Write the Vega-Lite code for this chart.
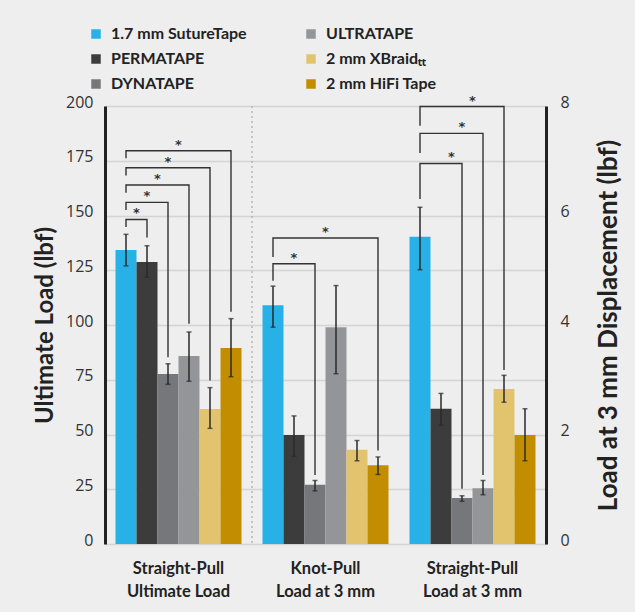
{
  "$schema": "https://vega.github.io/schema/vega-lite/v6.json",
  "width": 441,
  "height": 438,
  "autosize": "none",
  "padding": {"left": 105, "top": 106, "right": 89, "bottom": 68},
  "background": "#eeeeee",
  "config": {
    "view": {"stroke": null},
    "axis": {"labelFont": "Open Sans", "titleFont": "Lato", "ticks": false}
  },
  "datasets": {
    "bars": [
      {"group": "Straight-Pull|Ultimate Load", "product": "1.7 mm SutureTape", "value": 134.2, "lo": 127.0, "hi": 141.4},
      {"group": "Straight-Pull|Ultimate Load", "product": "PERMATAPE", "value": 128.8, "lo": 121.8, "hi": 136.2},
      {"group": "Straight-Pull|Ultimate Load", "product": "DYNATAPE", "value": 77.6, "lo": 72.9, "hi": 82.3},
      {"group": "Straight-Pull|Ultimate Load", "product": "ULTRATAPE", "value": 85.8, "lo": 74.3, "hi": 96.8},
      {"group": "Straight-Pull|Ultimate Load", "product": "2 mm XBraidₜₜ", "value": 61.6, "lo": 52.8, "hi": 71.4},
      {"group": "Straight-Pull|Ultimate Load", "product": "2 mm HiFi Tape", "value": 89.5, "lo": 76.4, "hi": 102.9},
      {"group": "Knot-Pull|Load at 3 mm", "product": "1.7 mm SutureTape", "value": 4.36, "lo": 3.96, "hi": 4.71},
      {"group": "Knot-Pull|Load at 3 mm", "product": "PERMATAPE", "value": 1.99, "lo": 1.60, "hi": 2.34},
      {"group": "Knot-Pull|Load at 3 mm", "product": "DYNATAPE", "value": 1.08, "lo": 0.97, "hi": 1.16},
      {"group": "Knot-Pull|Load at 3 mm", "product": "ULTRATAPE", "value": 3.96, "lo": 3.11, "hi": 4.72},
      {"group": "Knot-Pull|Load at 3 mm", "product": "2 mm XBraidₜₜ", "value": 1.72, "lo": 1.52, "hi": 1.89},
      {"group": "Knot-Pull|Load at 3 mm", "product": "2 mm HiFi Tape", "value": 1.44, "lo": 1.27, "hi": 1.59},
      {"group": "Straight-Pull|Load at 3 mm", "product": "1.7 mm SutureTape", "value": 5.61, "lo": 5.01, "hi": 6.15},
      {"group": "Straight-Pull|Load at 3 mm", "product": "PERMATAPE", "value": 2.47, "lo": 2.17, "hi": 2.75},
      {"group": "Straight-Pull|Load at 3 mm", "product": "DYNATAPE", "value": 0.84, "lo": 0.78, "hi": 0.88},
      {"group": "Straight-Pull|Load at 3 mm", "product": "ULTRATAPE", "value": 1.02, "lo": 0.90, "hi": 1.16},
      {"group": "Straight-Pull|Load at 3 mm", "product": "2 mm XBraidₜₜ", "value": 2.83, "lo": 2.59, "hi": 3.08},
      {"group": "Straight-Pull|Load at 3 mm", "product": "2 mm HiFi Tape", "value": 1.99, "lo": 1.52, "hi": 2.47}
    ],
    "brackets": [
      {"group": "Straight-Pull|Ultimate Load", "bracket": "b1", "step": 1, "product": "1.7 mm SutureTape", "y": 144.7},
      {"group": "Straight-Pull|Ultimate Load", "bracket": "b1", "step": 2, "product": "1.7 mm SutureTape", "y": 148.2},
      {"group": "Straight-Pull|Ultimate Load", "bracket": "b1", "step": 3, "product": "PERMATAPE", "y": 148.2},
      {"group": "Straight-Pull|Ultimate Load", "bracket": "b1", "step": 4, "product": "PERMATAPE", "y": 140.0},
      {"group": "Straight-Pull|Ultimate Load", "bracket": "b2", "step": 1, "product": "1.7 mm SutureTape", "y": 152.5},
      {"group": "Straight-Pull|Ultimate Load", "bracket": "b2", "step": 2, "product": "1.7 mm SutureTape", "y": 156.0},
      {"group": "Straight-Pull|Ultimate Load", "bracket": "b2", "step": 3, "product": "DYNATAPE", "y": 156.0},
      {"group": "Straight-Pull|Ultimate Load", "bracket": "b2", "step": 4, "product": "DYNATAPE", "y": 85.3},
      {"group": "Straight-Pull|Ultimate Load", "bracket": "b3", "step": 1, "product": "1.7 mm SutureTape", "y": 160.4},
      {"group": "Straight-Pull|Ultimate Load", "bracket": "b3", "step": 2, "product": "1.7 mm SutureTape", "y": 163.9},
      {"group": "Straight-Pull|Ultimate Load", "bracket": "b3", "step": 3, "product": "ULTRATAPE", "y": 163.9},
      {"group": "Straight-Pull|Ultimate Load", "bracket": "b3", "step": 4, "product": "ULTRATAPE", "y": 100.6},
      {"group": "Straight-Pull|Ultimate Load", "bracket": "b4", "step": 1, "product": "1.7 mm SutureTape", "y": 168.3},
      {"group": "Straight-Pull|Ultimate Load", "bracket": "b4", "step": 2, "product": "1.7 mm SutureTape", "y": 171.8},
      {"group": "Straight-Pull|Ultimate Load", "bracket": "b4", "step": 3, "product": "2 mm XBraidₜₜ", "y": 171.8},
      {"group": "Straight-Pull|Ultimate Load", "bracket": "b4", "step": 4, "product": "2 mm XBraidₜₜ", "y": 74.7},
      {"group": "Straight-Pull|Ultimate Load", "bracket": "b5", "step": 1, "product": "1.7 mm SutureTape", "y": 176.1},
      {"group": "Straight-Pull|Ultimate Load", "bracket": "b5", "step": 2, "product": "1.7 mm SutureTape", "y": 179.6},
      {"group": "Straight-Pull|Ultimate Load", "bracket": "b5", "step": 3, "product": "2 mm HiFi Tape", "y": 179.6},
      {"group": "Straight-Pull|Ultimate Load", "bracket": "b5", "step": 4, "product": "2 mm HiFi Tape", "y": 106.1},
      {"group": "Knot-Pull|Load at 3 mm", "bracket": "b6", "step": 1, "product": "1.7 mm SutureTape", "y": 4.81},
      {"group": "Knot-Pull|Load at 3 mm", "bracket": "b6", "step": 2, "product": "1.7 mm SutureTape", "y": 5.12},
      {"group": "Knot-Pull|Load at 3 mm", "bracket": "b6", "step": 3, "product": "DYNATAPE", "y": 5.12},
      {"group": "Knot-Pull|Load at 3 mm", "bracket": "b6", "step": 4, "product": "DYNATAPE", "y": 1.26},
      {"group": "Knot-Pull|Load at 3 mm", "bracket": "b7", "step": 1, "product": "1.7 mm SutureTape", "y": 5.24},
      {"group": "Knot-Pull|Load at 3 mm", "bracket": "b7", "step": 2, "product": "1.7 mm SutureTape", "y": 5.59},
      {"group": "Knot-Pull|Load at 3 mm", "bracket": "b7", "step": 3, "product": "2 mm HiFi Tape", "y": 5.59},
      {"group": "Knot-Pull|Load at 3 mm", "bracket": "b7", "step": 4, "product": "2 mm HiFi Tape", "y": 1.71},
      {"group": "Straight-Pull|Load at 3 mm", "bracket": "b8", "step": 1, "product": "1.7 mm SutureTape", "y": 6.30},
      {"group": "Straight-Pull|Load at 3 mm", "bracket": "b8", "step": 2, "product": "1.7 mm SutureTape", "y": 6.95},
      {"group": "Straight-Pull|Load at 3 mm", "bracket": "b8", "step": 3, "product": "DYNATAPE", "y": 6.95},
      {"group": "Straight-Pull|Load at 3 mm", "bracket": "b8", "step": 4, "product": "DYNATAPE", "y": 1.01},
      {"group": "Straight-Pull|Load at 3 mm", "bracket": "b9", "step": 1, "product": "1.7 mm SutureTape", "y": 7.14},
      {"group": "Straight-Pull|Load at 3 mm", "bracket": "b9", "step": 2, "product": "1.7 mm SutureTape", "y": 7.50},
      {"group": "Straight-Pull|Load at 3 mm", "bracket": "b9", "step": 3, "product": "ULTRATAPE", "y": 7.50},
      {"group": "Straight-Pull|Load at 3 mm", "bracket": "b9", "step": 4, "product": "ULTRATAPE", "y": 1.26},
      {"group": "Straight-Pull|Load at 3 mm", "bracket": "b10", "step": 1, "product": "1.7 mm SutureTape", "y": 7.64},
      {"group": "Straight-Pull|Load at 3 mm", "bracket": "b10", "step": 2, "product": "1.7 mm SutureTape", "y": 7.99},
      {"group": "Straight-Pull|Load at 3 mm", "bracket": "b10", "step": 3, "product": "2 mm XBraidₜₜ", "y": 7.99},
      {"group": "Straight-Pull|Load at 3 mm", "bracket": "b10", "step": 4, "product": "2 mm XBraidₜₜ", "y": 3.18}
    ],
    "stars": [
      {"group": "Straight-Pull|Ultimate Load", "product": "1.7 mm SutureTape", "y": 148.2, "at": "edge"},
      {"group": "Straight-Pull|Ultimate Load", "product": "PERMATAPE", "y": 156.0, "at": "center"},
      {"group": "Straight-Pull|Ultimate Load", "product": "PERMATAPE", "y": 163.9, "at": "edge"},
      {"group": "Straight-Pull|Ultimate Load", "product": "DYNATAPE", "y": 171.8, "at": "center"},
      {"group": "Straight-Pull|Ultimate Load", "product": "DYNATAPE", "y": 179.6, "at": "edge"},
      {"group": "Knot-Pull|Load at 3 mm", "product": "PERMATAPE", "y": 5.12, "at": "center"},
      {"group": "Knot-Pull|Load at 3 mm", "product": "DYNATAPE", "y": 5.59, "at": "edge"},
      {"group": "Straight-Pull|Load at 3 mm", "product": "PERMATAPE", "y": 6.95, "at": "edge"},
      {"group": "Straight-Pull|Load at 3 mm", "product": "DYNATAPE", "y": 7.50, "at": "center"},
      {"group": "Straight-Pull|Load at 3 mm", "product": "DYNATAPE", "y": 7.99, "at": "edge"}
    ]
  },
  "encoding": {
    "x": {
      "field": "group", "type": "nominal",
      "scale": {"domain": ["Straight-Pull|Ultimate Load", "Knot-Pull|Load at 3 mm", "Straight-Pull|Load at 3 mm"], "paddingInner": 0, "paddingOuter": 0},
      "axis": {"title": null, "domain": false, "ticks": false, "labelAngle": 0, "labelExpr": "split(datum.label, '|')", "labelFont": "Lato", "labelFontWeight": "bold", "labelFontSize": 16.5, "labelColor": "#222222", "labelPadding": 16, "labelLineHeight": 23, "labelBaseline": "top"}
    }
  },
  "layer": [
    {
      "layer": [
        {
          "data": {"name": "bars"},
          "transform": [{"filter": "datum.group == 'Straight-Pull|Ultimate Load'"}],
          "mark": {"type": "bar"},
          "encoding": {
            "xOffset": {"field": "product", "type": "nominal", "scale": {"domain": ["1.7 mm SutureTape", "PERMATAPE", "DYNATAPE", "ULTRATAPE", "2 mm XBraidₜₜ", "2 mm HiFi Tape"], "paddingInner": 0, "paddingOuter": 0.5}},
            "y": {"field": "value", "type": "quantitative", "title": "Ultimate Load (lbf)", "scale": {"domain": [0, 200], "nice": false},
              "axis": {"orient": "left", "values": [0, 25, 50, 75, 100, 125, 150, 175, 200], "grid": true, "gridColor": "#d4d4d4", "gridWidth": 1.5, "domainColor": "#222222", "domainWidth": 3, "labelFontSize": 16, "labelColor": "#333333", "labelPadding": 12, "labelOffset": -4, "titleFontSize": 24, "titleFontWeight": "bold", "titleColor": "#222222", "titlePadding": 8}},
            "color": {"field": "product", "type": "nominal",
              "scale": {"domain": ["1.7 mm SutureTape", "PERMATAPE", "DYNATAPE", "ULTRATAPE", "2 mm XBraidₜₜ", "2 mm HiFi Tape"], "range": ["#27b1e6", "#3c3c3c", "#76777b", "#949599", "#e3c46e", "#c28e00"]},
              "legend": {"title": null, "orient": "none", "legendX": -17, "legendY": -80, "columns": 2, "columnPadding": 56, "rowPadding": 9, "symbolType": "square", "symbolSize": 90, "symbolStrokeWidth": 0, "labelFont": "Lato", "labelFontSize": 16, "labelFontWeight": "bold", "labelColor": "#222222", "labelOffset": 7}}
          }
        },
        {
          "data": {"name": "bars"},
          "transform": [{"filter": "datum.group == 'Straight-Pull|Ultimate Load'"}],
          "mark": {"type": "rule", "color": "#2a2a2a", "strokeWidth": 1.5},
          "encoding": {
            "xOffset": {"field": "product", "type": "nominal"},
            "y": {"field": "lo", "type": "quantitative", "title": "Ultimate Load (lbf)"},
            "y2": {"field": "hi"}
          }
        },
        {
          "data": {"name": "bars"},
          "transform": [{"filter": "datum.group == 'Straight-Pull|Ultimate Load'"}],
          "mark": {"type": "tick", "color": "#2a2a2a", "size": 5, "thickness": 1.5, "orient": "horizontal"},
          "encoding": {
            "xOffset": {"field": "product", "type": "nominal"},
            "y": {"field": "lo", "type": "quantitative", "title": "Ultimate Load (lbf)"}
          }
        },
        {
          "data": {"name": "bars"},
          "transform": [{"filter": "datum.group == 'Straight-Pull|Ultimate Load'"}],
          "mark": {"type": "tick", "color": "#2a2a2a", "size": 5, "thickness": 1.5, "orient": "horizontal"},
          "encoding": {
            "xOffset": {"field": "product", "type": "nominal"},
            "y": {"field": "hi", "type": "quantitative", "title": "Ultimate Load (lbf)"}
          }
        },
        {
          "data": {"name": "brackets"},
          "transform": [{"filter": "datum.group == 'Straight-Pull|Ultimate Load'"}],
          "mark": {"type": "line", "color": "#333333", "strokeWidth": 1.4, "strokeJoin": "miter", "strokeCap": "butt"},
          "encoding": {
            "xOffset": {"field": "product", "type": "nominal"},
            "y": {"field": "y", "type": "quantitative", "title": "Ultimate Load (lbf)"},
            "detail": {"field": "bracket"},
            "order": {"field": "step", "type": "quantitative"}
          }
        },
        {
          "data": {"name": "stars"},
          "transform": [{"filter": "datum.group == 'Straight-Pull|Ultimate Load' && datum.at == 'center'"}],
          "mark": {"type": "text", "text": "*", "font": "DejaVu Sans", "fontSize": 13, "fontWeight": "bold", "color": "#333333", "baseline": "middle", "dy": -6},
          "encoding": {
            "xOffset": {"field": "product", "type": "nominal"},
            "y": {"field": "y", "type": "quantitative", "title": "Ultimate Load (lbf)"}
          }
        },
        {
          "data": {"name": "stars"},
          "transform": [{"filter": "datum.group == 'Straight-Pull|Ultimate Load' && datum.at == 'edge'"}],
          "mark": {"type": "text", "text": "*", "font": "DejaVu Sans", "fontSize": 13, "fontWeight": "bold", "color": "#333333", "baseline": "middle", "dy": -6, "dx": 10.5},
          "encoding": {
            "xOffset": {"field": "product", "type": "nominal"},
            "y": {"field": "y", "type": "quantitative", "title": "Ultimate Load (lbf)"}
          }
        },
        {
          "data": {"values": [{"group": "Knot-Pull|Load at 3 mm"}]},
          "mark": {"type": "rule", "color": "#aaaaaa", "strokeWidth": 1.2, "strokeDash": [2, 3]},
          "encoding": {
            "x": {"field": "group", "type": "nominal", "bandPosition": 0}
          }
        }
      ]
    },
    {
      "layer": [
        {
          "data": {"name": "bars"},
          "transform": [{"filter": "datum.group != 'Straight-Pull|Ultimate Load'"}],
          "mark": {"type": "bar"},
          "encoding": {
            "xOffset": {"field": "product", "type": "nominal"},
            "y": {"field": "value", "type": "quantitative", "title": "Load at 3 mm Displacement (lbf)", "scale": {"domain": [0, 8], "nice": false},
              "axis": {"orient": "right", "values": [0, 2, 4, 6, 8], "grid": false, "domainColor": "#222222", "domainWidth": 3, "labelFontSize": 16, "labelColor": "#333333", "labelPadding": 14, "labelOffset": -4, "titleFontSize": 26, "titleFontWeight": "bold", "titleColor": "#222222", "titleAngle": 270, "titlePadding": 52}},
            "color": {"field": "product", "type": "nominal"}
          }
        },
        {
          "data": {"name": "bars"},
          "transform": [{"filter": "datum.group != 'Straight-Pull|Ultimate Load'"}],
          "mark": {"type": "rule", "color": "#2a2a2a", "strokeWidth": 1.5},
          "encoding": {
            "xOffset": {"field": "product", "type": "nominal"},
            "y": {"field": "lo", "type": "quantitative", "title": "Load at 3 mm Displacement (lbf)"},
            "y2": {"field": "hi"}
          }
        },
        {
          "data": {"name": "bars"},
          "transform": [{"filter": "datum.group != 'Straight-Pull|Ultimate Load'"}],
          "mark": {"type": "tick", "color": "#2a2a2a", "size": 5, "thickness": 1.5, "orient": "horizontal"},
          "encoding": {
            "xOffset": {"field": "product", "type": "nominal"},
            "y": {"field": "lo", "type": "quantitative", "title": "Load at 3 mm Displacement (lbf)"}
          }
        },
        {
          "data": {"name": "bars"},
          "transform": [{"filter": "datum.group != 'Straight-Pull|Ultimate Load'"}],
          "mark": {"type": "tick", "color": "#2a2a2a", "size": 5, "thickness": 1.5, "orient": "horizontal"},
          "encoding": {
            "xOffset": {"field": "product", "type": "nominal"},
            "y": {"field": "hi", "type": "quantitative", "title": "Load at 3 mm Displacement (lbf)"}
          }
        },
        {
          "data": {"name": "brackets"},
          "transform": [{"filter": "datum.group != 'Straight-Pull|Ultimate Load'"}],
          "mark": {"type": "line", "color": "#333333", "strokeWidth": 1.4, "strokeJoin": "miter", "strokeCap": "butt"},
          "encoding": {
            "xOffset": {"field": "product", "type": "nominal"},
            "y": {"field": "y", "type": "quantitative", "title": "Load at 3 mm Displacement (lbf)"},
            "detail": {"field": "bracket"},
            "order": {"field": "step", "type": "quantitative"}
          }
        },
        {
          "data": {"name": "stars"},
          "transform": [{"filter": "datum.group != 'Straight-Pull|Ultimate Load' && datum.at == 'center'"}],
          "mark": {"type": "text", "text": "*", "font": "DejaVu Sans", "fontSize": 13, "fontWeight": "bold", "color": "#333333", "baseline": "middle", "dy": -6},
          "encoding": {
            "xOffset": {"field": "product", "type": "nominal"},
            "y": {"field": "y", "type": "quantitative", "title": "Load at 3 mm Displacement (lbf)"}
          }
        },
        {
          "data": {"name": "stars"},
          "transform": [{"filter": "datum.group != 'Straight-Pull|Ultimate Load' && datum.at == 'edge'"}],
          "mark": {"type": "text", "text": "*", "font": "DejaVu Sans", "fontSize": 13, "fontWeight": "bold", "color": "#333333", "baseline": "middle", "dy": -6, "dx": 10.5},
          "encoding": {
            "xOffset": {"field": "product", "type": "nominal"},
            "y": {"field": "y", "type": "quantitative", "title": "Load at 3 mm Displacement (lbf)"}
          }
        }
      ]
    }
  ],
  "resolve": {"scale": {"y": "independent"}}
}
